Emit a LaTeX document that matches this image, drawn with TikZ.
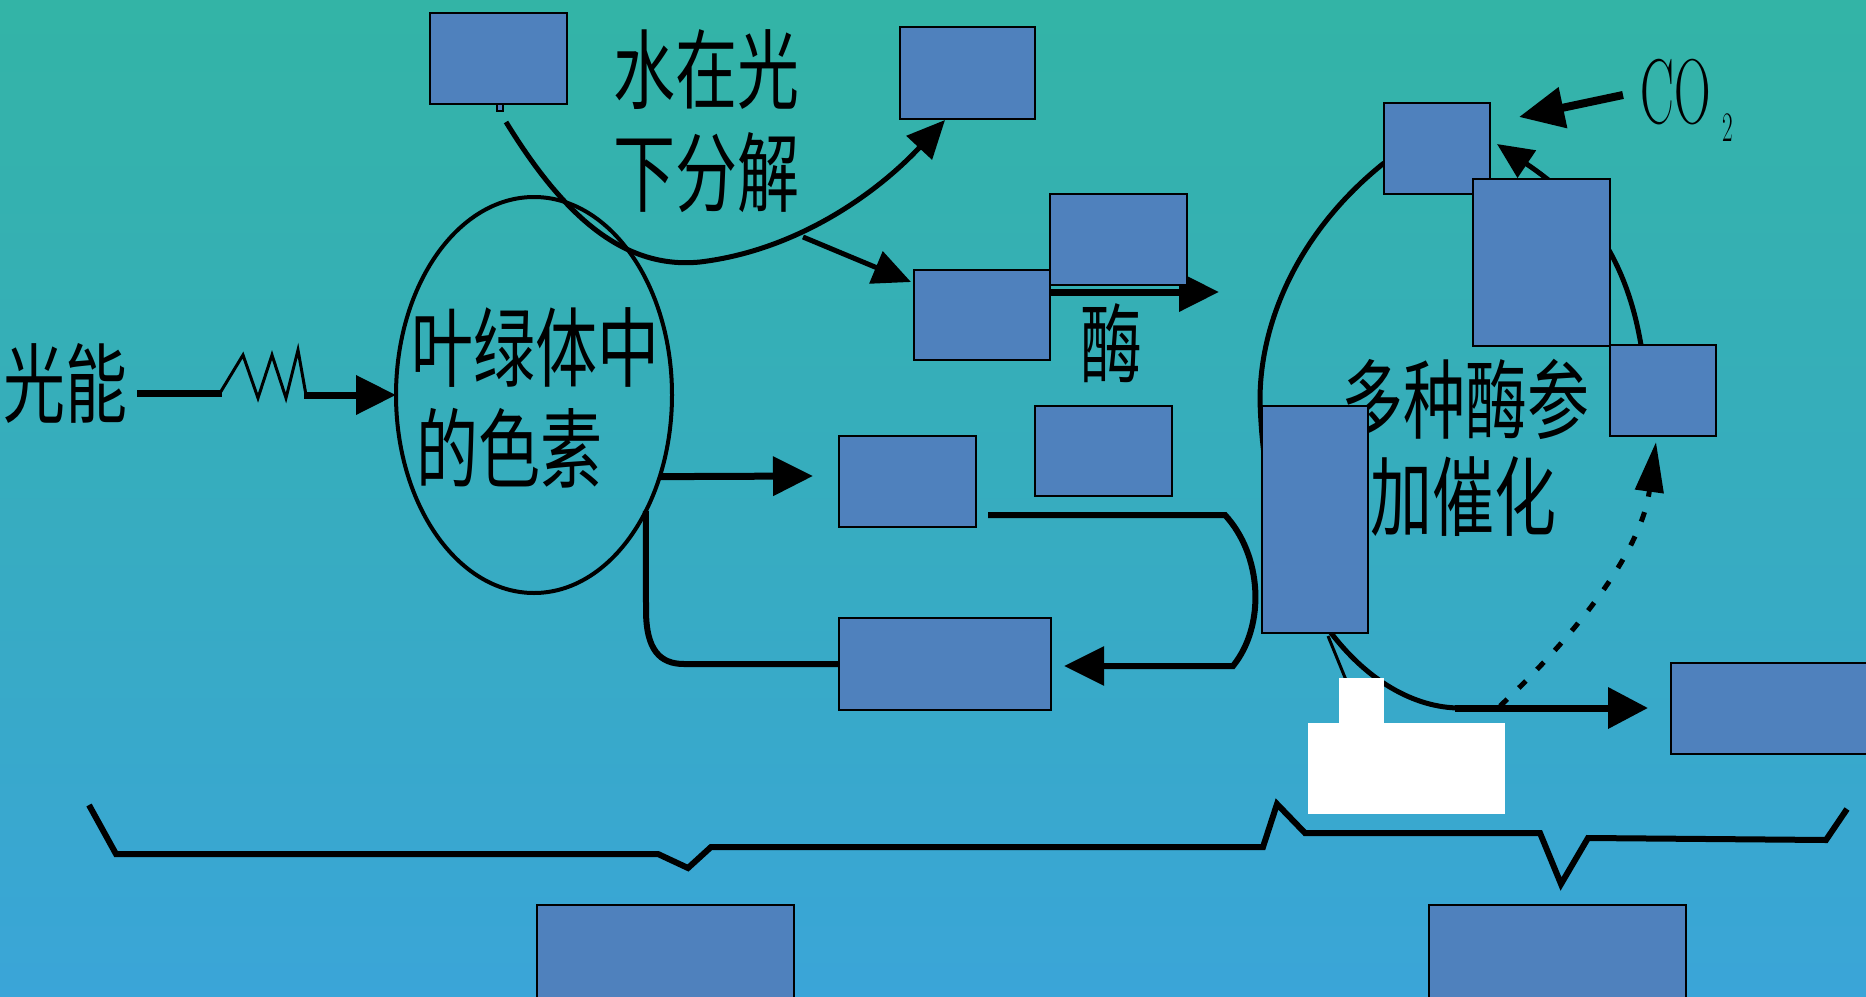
\documentclass[tikz,border=0pt]{standalone}
\usepackage{graphicx}
\usepackage{fontspec}
\newfontfamily\cjk{Noto Sans CJK SC}
\usetikzlibrary{arrows.meta,shapes.geometric}
\definecolor{bgtop}{RGB}{51,180,166}
\definecolor{bgbot}{RGB}{58,165,216}
\definecolor{boxblue}{RGB}{79,129,189}
\tikzset{
  bx/.style={draw=black, line width=2pt, fill=boxblue, inner sep=0pt, outer sep=0pt},
  conn/.style={draw=black, line width=5pt},
  bigtip/.style={-{Triangle[length=40pt,width=38pt]}},
  lbl/.style={inner sep=0pt, text=black, font=\cjk\fontsize{62}{70}\selectfont},
  wbox/.style={fill=white, draw=none, inner sep=0pt, outer sep=0pt},
}
\newcommand{\tall}[1]{\scalebox{1}[1.4]{#1}}
\begin{document}
\begin{tikzpicture}[x=1pt,y=-1pt]
\shade[top color=bgtop,bottom color=bgbot] (0,0) rectangle (1866,996);
\useasboundingbox (0,0) rectangle (1866,996);

% ---------- text ----------
\node[lbl] (guangneng) at (65,383) {\tall{光能}};
\node[lbl] (shui1) at (706,70) {\tall{水在光}};
\node[lbl] (shui2) at (706,173) {\tall{下分解}};
\node[lbl] (mei) at (1111,343) {\tall{酶}};
\node[lbl] (duo1) at (1465,399) {\tall{多种酶参}};
\node[lbl] (duo2) at (1463,497) {\tall{加催化}};
\node[lbl,anchor=west] (ye1) at (411,348) {\tall{叶绿体中}};
\node[lbl,anchor=west] (ye2) at (416,448) {\tall{的色素}};
\node[inner sep=0pt, font=\fontsize{92}{92}\selectfont] (co) at (1676,92) {\scalebox{0.55}[1]{CO}};
\node[inner sep=0pt, font=\fontsize{42}{42}\selectfont] (cosub) at (1728,128) {\scalebox{0.55}[1]{2}};

% ---------- ellipse ----------
\node[ellipse, draw=black, line width=4pt, minimum width=276pt, minimum height=396pt, inner sep=0pt, outer sep=0pt] (chl) at (534,395) {};

% ---------- coordinates ----------
\coordinate (ln0) at (137,393);
\coordinate (aStart) at (506,122);
\coordinate (bTip) at (945,120);
\coordinate (brA) at (803,237);
\coordinate (brTip) at (911,282);
\coordinate (eOut) at (1050,292);
\coordinate (eTip) at (1219,292);
\coordinate (cStart) at (988,515);
\coordinate (iStart) at (1384,163);
\coordinate (cycTip) at (1648,708);
\coordinate (dotStart) at (1500,706);
\coordinate (dotTip) at (1656,442);
\coordinate (kTop) at (1641,345);
\coordinate (jTip) at (1497,144);
\coordinate (coStart) at (1623,95);
\coordinate (coTip) at (1519,117);

% ---------- connectors ----------
% light energy
\draw[line width=7pt] (ln0) -- (222,393);
\draw[line width=3pt, line join=miter] (220,393) -- (243,355) -- (258,398) -- (272,355) -- (286,398) -- (298,350) -- (306,395);
\draw[line width=7pt, bigtip] (304,395) -- (chl.west);
% water splitting
\draw[line width=5pt, -{Triangle[length=38pt,width=34pt]}] (aStart) .. controls (560,210) and (620,270) .. (700,262) .. controls (800,250) and (880,190) .. (bTip);
\draw[line width=5pt, -{Triangle[length=38pt,width=34pt]}] (brA) -- (brTip);
% enzyme arrow
\draw[line width=7pt, bigtip] (eOut) -- (eTip);
% ellipse -> box C
\draw[line width=7pt, bigtip] (chl.-33) -- (813,476);
% ellipse -> box D
\draw[line width=6pt] (chl.-46) -- (646,610) .. controls (646,650) and (660,664) .. (684,664) -- (839,664);
% box C -> box D loop
\draw[line width=6pt, bigtip] (cStart) -- (1225,515) .. controls (1262,555) and (1266,625) .. (1233,666) -- (1064,666);
% Calvin cycle
\draw[line width=5pt] (iStart) .. controls (1300,230) and (1260,320) .. (1260,400) .. controls (1265,600) and (1370,708) .. (1460,708) -- (1610,708);
\draw[line width=7pt, -{Triangle[length=40pt,width=40pt]}] (1455,708) -- (cycTip);
\draw[line width=3pt] (1328,636) -- (1346,680);
\draw[line width=5pt, dash pattern=on 10pt off 16pt, -{Triangle[length=50pt,width=28pt]}] (dotStart) .. controls (1560,650) and (1640,560) .. (dotTip);
\draw[line width=5pt, -{Triangle[length=36pt,width=32pt]}] (kTop) .. controls (1625,250) and (1580,200) .. (jTip);
\draw[line width=8pt, -{Triangle[length=45pt,width=40pt]}] (coStart) -- (coTip);

% bottom brace
\draw[line width=6pt, line join=miter] (89,805) -- (116,854) -- (658,854) -- (688,868) -- (711,847) -- (1263,847) -- (1277,804) -- (1305,833) -- (1540,833) -- (1561,884) -- (1588,838) -- (1826,840) -- (1847,809);

% ---------- boxes ----------
\node[bx, minimum width=6pt, minimum height=7pt] (stub) at (500,107) {};
\node[bx, minimum width=137pt, minimum height=91pt] (boxA) at (498.5,58.5) {};
\node[bx, minimum width=135pt, minimum height=92pt] (boxB) at (967.5,73) {};
\node[bx, minimum width=137pt, minimum height=91pt] (boxC) at (907.5,481.5) {};
\node[bx, minimum width=212pt, minimum height=92pt] (boxD) at (945,664) {};
\node[bx, minimum width=136pt, minimum height=90pt] (boxE) at (982,315) {};
\node[bx, minimum width=137pt, minimum height=91pt] (boxF) at (1118.5,239.5) {};
\node[bx, minimum width=137pt, minimum height=90pt] (boxG) at (1103.5,451) {};
\node[bx, minimum width=106pt, minimum height=227pt] (boxH) at (1315,519.5) {};
\node[bx, minimum width=106pt, minimum height=91pt] (boxI) at (1437,148.5) {};
\node[bx, minimum width=137pt, minimum height=167pt] (boxJ) at (1541.5,262.5) {};
\node[bx, minimum width=106pt, minimum height=91pt] (boxK) at (1663,390.5) {};
\node[bx, minimum width=199pt, minimum height=91pt] (boxL) at (1770.5,708.5) {};
\node[bx, minimum width=257pt, minimum height=95pt] (boxM) at (665.5,952.5) {};
\node[bx, minimum width=257pt, minimum height=95pt] (boxN) at (1557.5,952.5) {};

% white patches
\node[wbox, minimum width=45pt, minimum height=46pt] (w1) at (1361.5,701) {};
\node[wbox, minimum width=197pt, minimum height=91pt] (w2) at (1406.5,768.5) {};
\end{tikzpicture}
\end{document}
